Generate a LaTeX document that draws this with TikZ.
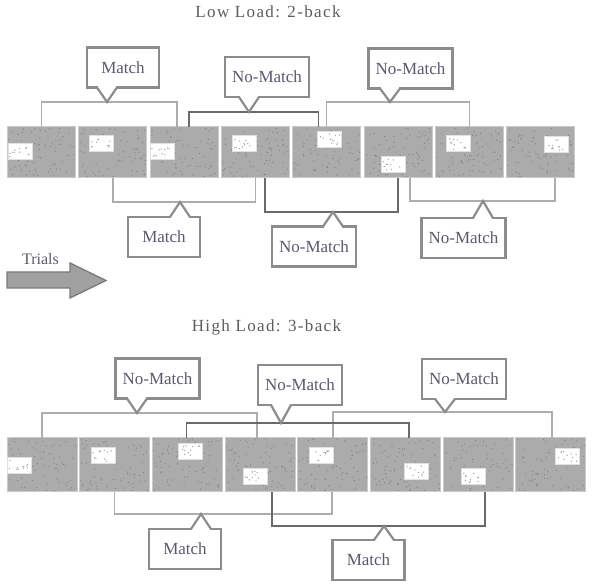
\documentclass[tikz,border=0pt]{standalone}
\usepackage{fontspec}
\setmainfont{Liberation Serif}
\newfontfamily\titlefont[LetterSpace=8]{Liberation Serif}
\usetikzlibrary{positioning}

\definecolor{trialgray}{HTML}{ABABAB}
\definecolor{trialedge}{HTML}{CACACA}
\definecolor{speck}{HTML}{7E7E7E}
\definecolor{stimdot}{HTML}{A2A2A2}
\definecolor{litebracket}{HTML}{ADADAD}
\definecolor{darkbracket}{HTML}{6A6A6A}
\definecolor{callgray}{HTML}{8C8C8C}
\definecolor{calltext}{HTML}{5A5A6E}
\definecolor{titlegray}{HTML}{5C5C5C}

% pointer of a callout box: #1 box, #2 tip, #3 side, #4 inward shift
\newcommand{\callnotch}[4]{%
    \fill[white] ([xshift=-9pt]#2 |- #1.#3) -- (#2) -- ([xshift=9pt]#2 |- #1.#3)
        -- ([xshift=9pt,yshift=#4]#2 |- #1.#3)
        -- ([xshift=-9pt,yshift=#4]#2 |- #1.#3) -- cycle;
    \draw[notchline] ([xshift=-10pt]#2 |- #1.#3) -- (#2)
        -- ([xshift=10pt]#2 |- #1.#3);
}

\begin{document}
\begin{tikzpicture}[
    x=1pt, y=1pt,
    every node/.style={align=center},
    trial/.style={
        draw=trialedge,
        line width=1pt,
        fill=trialgray,
        minimum width=68pt,
        minimum height=51pt,
        inner sep=0pt,
        outer sep=0pt
    },
    trialb/.style={
        trial,
        minimum width=70pt,
        minimum height=54pt
    },
    stim/.style={
        draw=white!88!black,
        line width=0.5pt,
        fill=white,
        minimum width=24pt,
        minimum height=16pt,
        inner sep=0pt
    },
    lite/.style={draw=litebracket, line width=1.5pt},
    dark/.style={draw=darkbracket, line width=1.5pt},
    call/.style={
        draw=callgray,
        line width=2.2pt,
        fill=white,
        text=calltext,
        font=\fontsize{17}{19}\selectfont,
        minimum width=72pt,
        minimum height=40pt,
        inner xsep=7pt,
        outer sep=0pt
    },
    notchline/.style={draw=callgray, line width=2.2pt, line cap=round},
    heading/.style={text=titlegray, font=\titlefont\fontsize{17}{19}\selectfont},
    trialarrow/.style={draw=black!52, line width=1.3pt, fill=black!37}
]
\useasboundingbox (0,0) rectangle (592,585);

% titles
\node[heading] (low) at (268,573) {Low Load: 2-back};
\node[heading] (high) at (266.5,258) {High Load: 3-back};

% trial screens, 2-back
\node[trial] (t1) at (41.5,432.5) {};
\foreach \i [evaluate=\i as \j using int(\i-1)] in {2,...,8}
    \node[trial, right=3.3pt of t\j] (t\i) {};

% trial screens, 3-back
\node[trialb] (u1) at (42,120) {};
\foreach \i [evaluate=\i as \j using int(\i-1)] in {2,...,8}
    \node[trialb, right=2.7pt of u\j] (u\i) {};

% speckles
\pgfmathsetseed{5}
\foreach \i in {1,...,8} {
    \foreach \k in {1,...,70} {
        \fill[speck] (t\i.south west) ++({1+rnd*66},{1+rnd*49}) circle (0.6);
        \fill[speck] (u\i.south west) ++({1+rnd*68},{1+rnd*52}) circle (0.6);
    }
}

% stimuli
\foreach \i/\dx/\dy in {1/-21.5/1.5, 2/-11.5/9.5, 3/-22/1.5, 4/-11.5/9.5,
                        5/3/13, 6/-5/-12, 7/-11/9, 8/16/8}
    \node[stim] (s\i) at ([shift={(\dx,\dy)}]t\i.center) {};
\foreach \i/\dx/\dy in {1/-22.5/0, 2/-11.5/10, 3/3/14, 4/-4.5/-11.5,
                        5/-11.5/10, 6/10.5/-6.5, 7/-4.5/-11.5, 8/16/9}
    \node[stim] (r\i) at ([shift={(\dx,\dy)}]u\i.center) {};
\foreach \i in {1,...,8} {
    \foreach \k in {1,...,11} {
        \fill[stimdot] (s\i.south west) ++({2+rnd*20},{2+rnd*12}) circle (0.7);
        \fill[stimdot] (r\i.south west) ++({2+rnd*20},{2+rnd*12}) circle (0.7);
    }
}

% 2-back comparisons
\coordinate (p1) at (107,483);
\coordinate (p2) at (249,473);
\coordinate (p3) at (390,483);
\coordinate (p4) at (180,383);
\coordinate (p5) at (333,373);
\coordinate (p6) at (483,384);

\draw[lite] (t1.north) |- (p1) -| ([xshift=-7pt]t3.north);
\draw[lite] (t5.north) |- (p3) -| (t7.north);
\draw[lite] (t2.south) |- (p4) -| (t4.south);
\draw[lite] ([xshift=12pt]t6.south) |- (p6) -| ([xshift=14.5pt]t8.south);
\draw[dark] ([xshift=5pt]t3.north) |- (p2) -| ([xshift=-8pt]t5.north);
\draw[dark] ([xshift=9.5pt]t4.south) |- (p5) -| (t6.south);

\node[call] (c1) at (123,517.5) {Match};
\node[call] (c2) at (267,508) {No-Match};
\node[call] (c3) at (410.5,516.5) {No-Match};
\node[call] (c4) at (164,348) {Match};
\node[call] (c5) at (314,338.5) {No-Match};
\node[call] (c6) at (463.5,347) {No-Match};
\callnotch{c1}{p1}{south}{1.3pt}
\callnotch{c2}{p2}{south}{1.3pt}
\callnotch{c3}{p3}{south}{1.3pt}
\callnotch{c4}{p4}{north}{-1.3pt}
\callnotch{c5}{p5}{north}{-1.3pt}
\callnotch{c6}{p6}{north}{-1.3pt}

% 3-back comparisons
\coordinate (q1) at (137,172);
\coordinate (q2) at (281,162);
\coordinate (q3) at (445,173);
\coordinate (q4) at (201,71);
\coordinate (q5) at (384,59);

\draw[lite] (u1.north) |- (q1) -| ([xshift=-3pt]u4.north);
\draw[lite] (u5.north) |- (q3) -| ([xshift=1pt]u8.north);
\draw[lite] (u2.south) |- (q4) -| ([xshift=-1pt]u5.south);
\draw[dark] ([xshift=-1pt]u3.north) |- (q2) -| ([xshift=3.5pt]u6.north);
\draw[dark] ([xshift=12pt]u4.south) |- (q5) -| ([xshift=7pt]u7.south);

\node[call] (d1) at (157.5,206.5) {No-Match};
\node[call] (d2) at (300,200) {No-Match};
\node[call] (d3) at (464,206) {No-Match};
\node[call] (d4) at (185,36) {Match};
\node[call] (d5) at (368.5,25) {Match};
\callnotch{d1}{q1}{south}{1.3pt}
\callnotch{d2}{q2}{south}{1.3pt}
\callnotch{d3}{q3}{south}{1.3pt}
\callnotch{d4}{q4}{north}{-1.3pt}
\callnotch{d5}{q5}{north}{-1.3pt}

% time arrow
\draw[trialarrow] (7,297) -- (70,297) -- (70,287) -- (106,304.5)
    -- (70,322) -- (70,313) -- (7,313) -- cycle;
\node[text=calltext, font=\fontsize{16}{18}\selectfont] (trials) at (40.5,326) {Trials};

\end{tikzpicture}
\end{document}
